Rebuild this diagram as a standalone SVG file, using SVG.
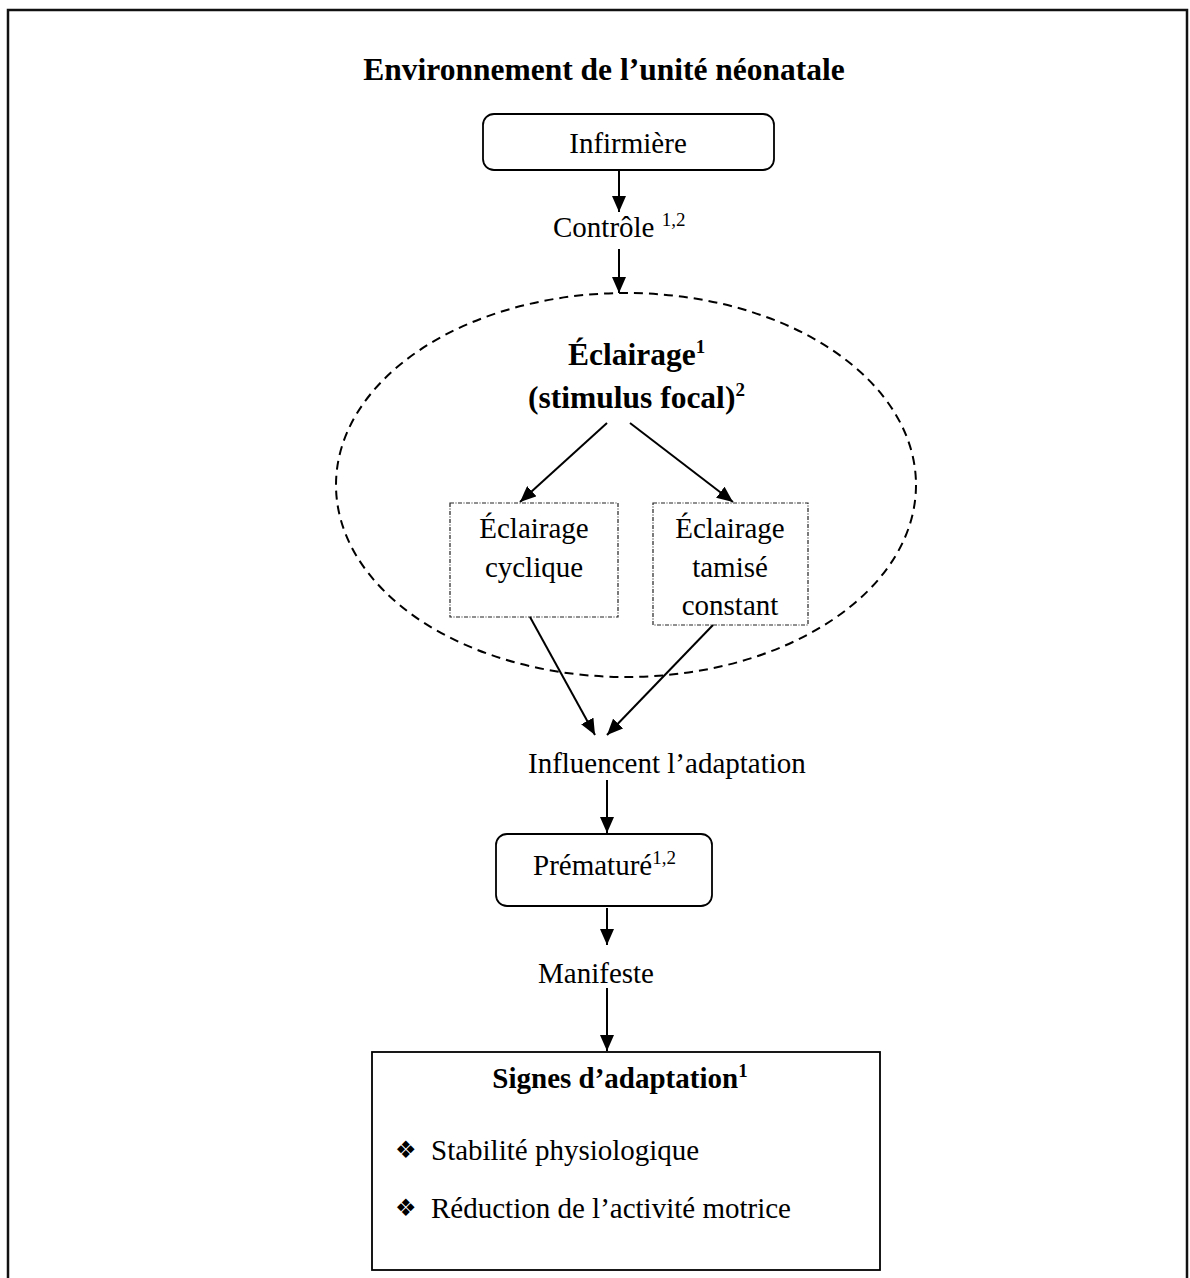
<svg xmlns="http://www.w3.org/2000/svg" width="1190" height="1278" viewBox="0 0 1190 1278">
<style>
text{font-family:"Liberation Serif","Times New Roman",serif;fill:#000}
.r{font-size:29px}
.b{font-size:31.5px;font-weight:bold}
.sup{font-size:19px}
.bul{font-family:"DejaVu Sans",sans-serif;font-size:24px}
.box{fill:#fff;stroke:#000;stroke-width:1.8}
.dot{fill:#fff;stroke:#222;stroke-width:1.2;stroke-dasharray:4 1.5 1 1.5}
.conn line{stroke:#000;stroke-width:2;marker-end:url(#ah)}
</style>
<defs>
<marker id="ah" viewBox="0 0 16 14" refX="16" refY="7" markerWidth="16" markerHeight="14" orient="auto" markerUnits="userSpaceOnUse">
<path d="M0,0 L16,7 L0,14 z" fill="#000"/>
</marker>
</defs>
<rect width="1190" height="1278" fill="#fff"/>
<path d="M8,1278 V10 H1187 V1278" fill="none" stroke="#111" stroke-width="2.5"/>
<g id="title"><text class="b" x="604" y="80" text-anchor="middle">Environnement de l’unité néonatale</text></g>
<g id="infirmiere"><rect class="box" x="483" y="114" width="291" height="56" rx="11"/><text class="r" x="628" y="153" text-anchor="middle">Infirmière</text></g>
<g id="controle"><text class="r" x="553" y="237">Contrôle <tspan class="sup" dy="-11">1,2</tspan></text></g>
<g id="eclairage"><ellipse cx="626" cy="485" rx="290" ry="192" fill="none" stroke="#000" stroke-width="2" stroke-dasharray="9 6"/>
<text class="b" x="568" y="365">Éclairage<tspan class="sup" dy="-12">1</tspan></text>
<text class="b" x="528" y="408">(stimulus focal)<tspan class="sup" dy="-12">2</tspan></text></g>
<g id="cyclique"><rect class="dot" x="450" y="503" width="168" height="114"/><text class="r" x="534" y="538" text-anchor="middle">Éclairage</text><text class="r" x="534" y="577" text-anchor="middle">cyclique</text></g>
<g id="tamise"><rect class="dot" x="653" y="503" width="155" height="122"/><text class="r" x="730" y="538" text-anchor="middle">Éclairage</text><text class="r" x="730" y="577" text-anchor="middle">tamisé</text><text class="r" x="730" y="615" text-anchor="middle">constant</text></g>
<g id="influencent"><text class="r" x="528" y="773">Influencent l’adaptation</text></g>
<g id="premature"><rect class="box" x="496" y="834" width="216" height="72" rx="11"/><text class="r" x="533" y="875">Prématuré<tspan class="sup" dy="-11">1,2</tspan></text></g>
<g id="manifeste"><text class="r" x="596" y="983" text-anchor="middle">Manifeste</text></g>
<g id="signes"><rect class="box" x="372" y="1052" width="508" height="218"/>
<text x="620" y="1088" text-anchor="middle" style="font-size:29px;font-weight:bold">Signes d’adaptation<tspan class="sup" dy="-11">1</tspan></text>
<text class="bul" x="395" y="1158">❖</text><text class="r" x="431" y="1160">Stabilité physiologique</text>
<text class="bul" x="395" y="1216">❖</text><text class="r" x="431" y="1218">Réduction de l’activité motrice</text></g>
<g id="connectors" class="conn">
<line x1="619" y1="170" x2="619" y2="212"/>
<line x1="619" y1="249" x2="619" y2="293"/>
<line x1="607" y1="423" x2="520" y2="502"/>
<line x1="630" y1="423" x2="733" y2="502"/>
<line x1="530" y1="617" x2="595" y2="735"/>
<line x1="713" y1="625" x2="607" y2="735"/>
<line x1="607" y1="780" x2="607" y2="833"/>
<line x1="607" y1="908" x2="607" y2="945"/>
<line x1="607" y1="988" x2="607" y2="1051"/>
</g>
</svg>
